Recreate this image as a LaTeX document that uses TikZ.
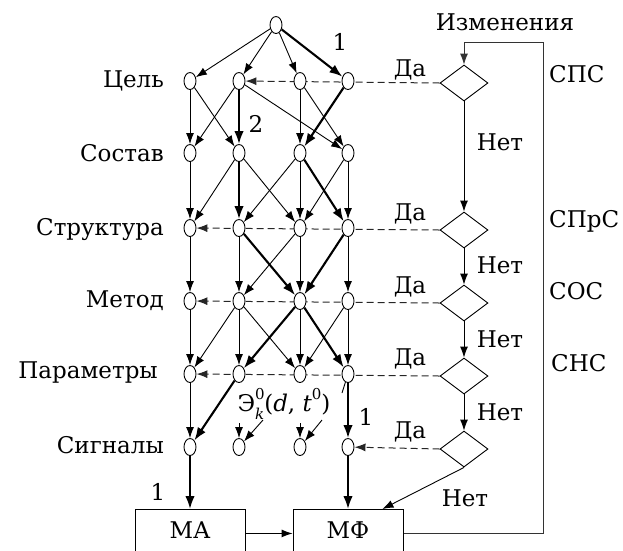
\documentclass[tikz,border=0pt]{standalone}
\usepackage{fontspec}
\setmainfont{DejaVu Serif}
\usetikzlibrary{arrows.meta,shapes.geometric,backgrounds}

\newcommand{\smallidx}{\fontsize{15}{15}\selectfont}

\tikzset{
  vert/.style={ellipse, draw, fill=white, minimum width=12pt, minimum height=17pt, inner sep=0pt, line width=0.9pt},
  dia/.style={diamond, draw, fill=white, minimum width=48pt, minimum height=36pt, inner sep=0pt, line width=0.9pt},
  mbox/.style={draw, fill=white, anchor=north, minimum width=110pt, inner xsep=0pt, inner ysep=12pt,
               text height=17pt, text depth=7pt, line width=0.9pt},
  thin/.style={-{Latex[length=11pt,width=8pt]}, line width=0.9pt},
  thick/.style={-{Latex[length=13pt,width=9.5pt]}, line width=2.1pt},
  dsh/.style={-{Latex[length=11pt,width=8pt]}, line width=1pt, draw=black!85, dash pattern=on 7pt off 4pt},
  plain/.style={line width=0.9pt},
  lvl/.style={anchor=east, inner sep=0pt},
  sys/.style={anchor=west, inner sep=0pt},
}

\begin{document}
\begin{tikzpicture}[x=1pt, y=-1pt, font=\fontsize{23}{26}\selectfont]
\useasboundingbox (0,0) rectangle (623,550);
\clip (0,0) rectangle (623,550);

% levels of the network
\node[vert] (t) at (276,25) {};
\foreach \r/\yy in {1/81, 2/153, 3/228, 4/301, 5/374, 6/447} {
  \node[vert] (r\r a) at (190,\yy) {};
  \node[vert] (r\r b) at (239,\yy) {};
  \node[vert] (r\r c) at (300,\yy) {};
  \node[vert] (r\r d) at (348,\yy) {};
}

% level names
\node[lvl] (lab1) at (164,81)  {Цель};
\node[lvl] (lab2) at (164,153) {Состав};
\node[lvl] (lab3) at (164,230) {Структура};
\node[lvl] (lab4) at (164,301) {Метод};
\node[lvl] (lab5) at (158,372) {Параметры};
\node[lvl] (lab6) at (164,445) {Сигналы};

% decision chain
\node (chg) at (505,22) {Изменения};
\node[dia] (d1) at (464,83)  {};
\node[dia] (d2) at (464,230) {};
\node[dia] (d3) at (464,303) {};
\node[dia] (d4) at (464,376) {};
\node[dia] (d5) at (464,449) {};

\node[sys] (s1) at (549,74)  {СПС};
\node[sys] (s2) at (549,221) {СПрС};
\node[sys] (s3) at (549,291) {СОС};
\node[sys] (s4) at (551,363) {СНС};

\node (y1) at (410,70)  {Да};
\node (y2) at (410,214) {Да};
\node (y3) at (410,287) {Да};
\node (y4) at (410,359) {Да};
\node (y5) at (410,432) {Да};

\node (n1) at (500,142) {Нет};
\node (n2) at (500,265) {Нет};
\node (n3) at (500,339) {Нет};
\node (n4) at (500,412) {Нет};
\node (n5) at (465,498) {Нет};

% models
\node[mbox] (ma) at (190,509) {МА};
\node[mbox] (mf) at (348,509) {МФ};

% path marks
\node (m1) at (340,42)  {1};
\node (m2) at (256,124) {2};
\node (m3) at (366,417) {1};
\node (m4) at (158,492) {1};
\node (ek) at (284,404) {Э\rlap{\raisebox{0.55em}{\smallidx 0}}\raisebox{-0.35em}{\smallidx\itshape k}(\textit{d},~\textit{t}\raisebox{0.55em}{\smallidx 0})};

% free ends of the short input arrows
\coordinate (ib1) at (239,423);
\coordinate (ib2) at (263,420);
\coordinate (ic1) at (300,423);
\coordinate (ic2) at (322,420);
\coordinate (tk)  at (342,393);

\begin{scope}[on background layer]
  % top to goals
  \draw[thin]  (t) -- (r1a);
  \draw[thin]  (t) -- (r1b);
  \draw[thin]  (t) -- (r1c);
  \draw[thick] (t) -- (r1d);
  % goals to composition
  \draw[thin]  (r1a) -- (r2a);
  \draw[thin]  (r1a) -- (r2b);
  \draw[thin]  (r1b) -- (r2a);
  \draw[thick] (r1b) -- (r2b);
  \draw[thin]  (r1b) -- (r2d);
  \draw[thin]  (r1c) -- (r2c);
  \draw[thin]  (r1c) -- (r2d);
  \draw[thick] (r1d) -- (r2c);
  % composition to structure
  \draw[thin]  (r2a) -- (r3a);
  \draw[thin]  (r2b) -- (r3a);
  \draw[thick] (r2b) -- (r3b);
  \draw[thin]  (r2b) -- (r3c);
  \draw[thin]  (r2c) -- (r3b);
  \draw[thin]  (r2c) -- (r3c);
  \draw[thick] (r2c) -- (r3d);
  \draw[thin]  (r2d) -- (r3c);
  \draw[thin]  (r2d) -- (r3d);
  % structure to method
  \draw[thin]  (r3a) -- (r4a);
  \draw[thin]  (r3b) -- (r4b);
  \draw[thick] (r3b) -- (r4c);
  \draw[thin]  (r3c) -- (r4b);
  \draw[thin]  (r3c) -- (r4c);
  \draw[thick] (r3d) -- (r4c);
  \draw[thin]  (r3d) -- (r4d);
  % method to parameters
  \draw[thin]  (r4a) -- (r5a);
  \draw[thin]  (r4b) -- (r5a);
  \draw[thin]  (r4b) -- (r5b);
  \draw[thin]  (r4b) -- (r5c);
  \draw[thick] (r4c) -- (r5b);
  \draw[thin]  (r4c) -- (r5c);
  \draw[thick] (r4c) -- (r5d);
  \draw[thin]  (r4d) -- (r5c);
  \draw[thin]  (r4d) -- (r5d);
  % parameters to signals
  \draw[thin]  (r5a) -- (r6a);
  \draw[thick] (r5b) -- (r6a);
  \draw[thick] (r5d) -- (r6d);
  \draw[plain] (r5d) -- (tk);
  \draw[thin]  (ib1) -- (r6b);
  \draw[thin]  (ib2) -- (r6b);
  \draw[thin]  (ic1) -- (r6c);
  \draw[thin]  (ic2) -- (r6c);
  % signals to models
  \draw[thick] (r6a) -- (ma);
  \draw[thick] (r6d) -- (mf);
  \draw[thin]  (ma) -- (mf);
  % "yes" returns
  \draw[dsh] (d1.west) -- (r1b);
  \draw[dsh] (d2.west) -- (r3a);
  \draw[dsh] (d3.west) -- (r4a);
  \draw[dsh] (d4.west) -- (r5a);
  \draw[dsh] (d5.west) -- (r6d);
  % "no" chain
  \draw[thin] (d1) -- (d2);
  \draw[thin] (d2) -- (d3);
  \draw[thin] (d3) -- (d4);
  \draw[thin] (d4) -- (d5);
  \draw[thin] (d5.south) -- ([xshift=-21pt]mf.north east);
  % feedback loop
  \draw[thin, draw=black!80] (mf.east) -| (543,42) -| (d1.north);
\end{scope}
\end{tikzpicture}
\end{document}
